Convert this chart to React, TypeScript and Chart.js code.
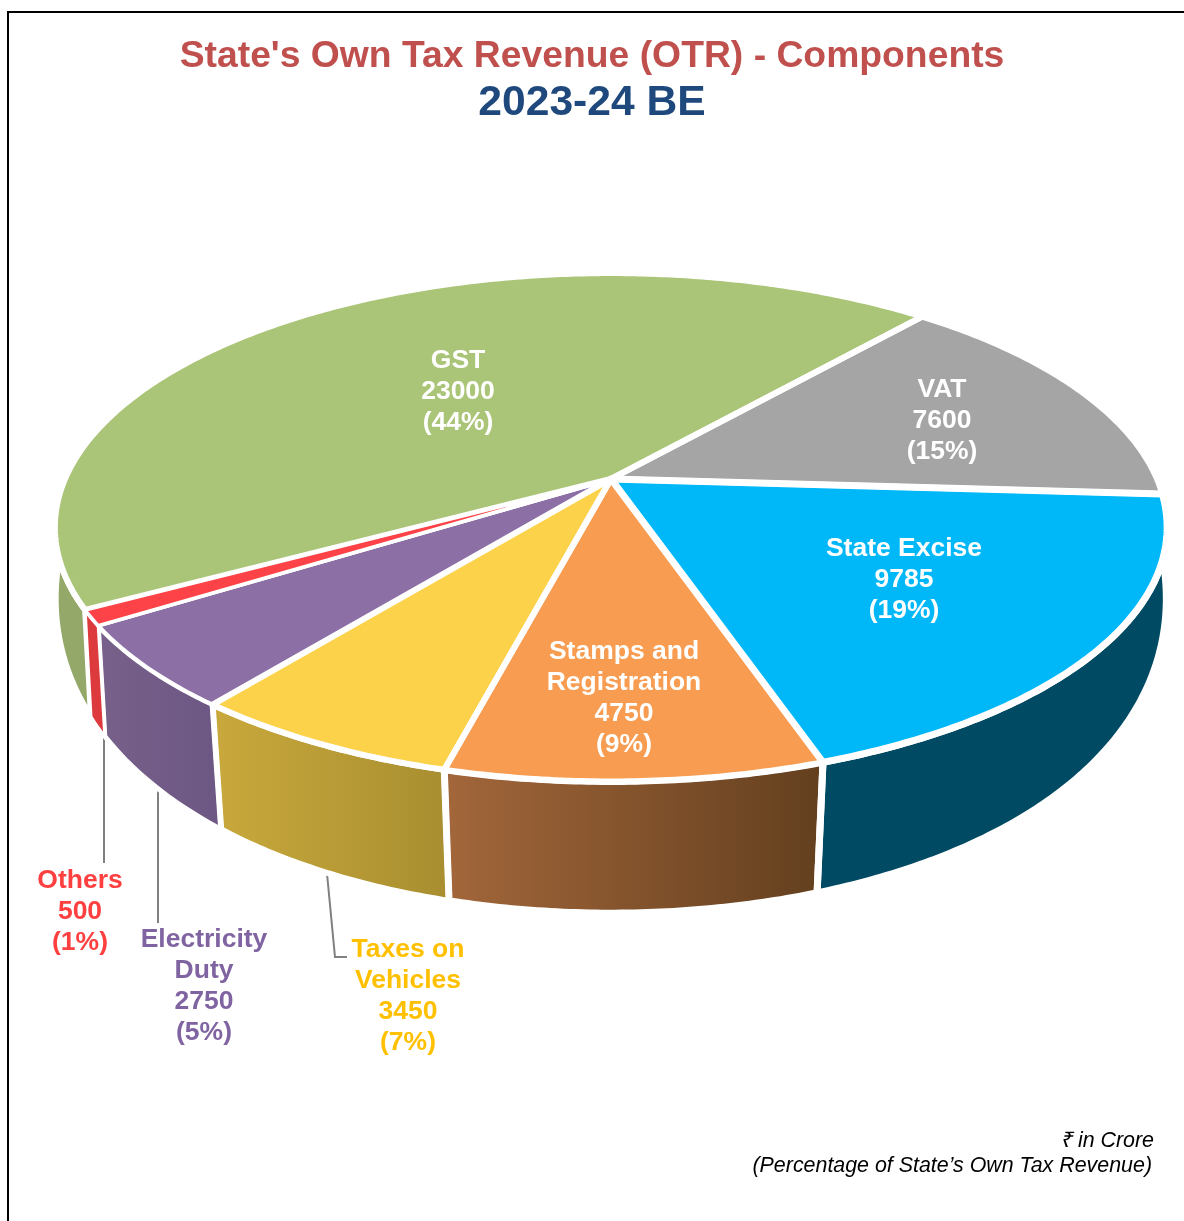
import React, { useEffect, useRef } from "react";
import { Chart, registerables } from "chart.js";

Chart.register(...registerables);

const categories = ["GST", "VAT", "State Excise", "Stamps and Registration", "Taxes on Vehicles", "Electricity Duty", "Others"];
const revenue = [23000, 7600, 9785, 4750, 3450, 2750, 500];
const labelLines = [["GST"], ["VAT"], ["State Excise"], ["Stamps and", "Registration"], ["Taxes on", "Vehicles"], ["Electricity", "Duty"], ["Others"]];
const topColors = ["#ABC578", "#A5A5A5", "#00B8F8", "#F79C50", "#FCD24B", "#8B6FA5", "#FD4347"];
const wallFrom = ["#93A869", "#8A8A8A", "#004A63", "#A2663A", "#C8A83C", "#776089", "#DC3A3D"];
const wallTo = ["#93A869", "#8A8A8A", "#004A63", "#64401F", "#A88E30", "#6C5784", "#DC3A3D"];
const labelColors = ["#FFFFFF", "#FFFFFF", "#FFFFFF", "#FFFFFF", "#FFC000", "#8064A2", "#FF4040"];
const faceStroke = [6, 6, 7, 6, 6, 4, 4];
const wallStroke = [6, 6, 7, 7, 6, 5, 4];
const SLIVER = 6; // index of the thin "Others" slice, repainted above its neighbours' strokes

// text layout: centre x and first-line centre y of each label block
const labelX = [458, 942, 904, 624, 408, 204, 80];
const labelY = [361, 390, 549, 652, 950, 940, 881];
// leader lines: they leave the lower rim, then follow the waypoints
const leaders: Record<number, { dx: number | null; points: [number, number][] }> = {
  4: { dx: 1, points: [[335, 957], [347, 957]] },
  5: { dx: null, points: [[158, 923]] },
  6: { dx: null, points: [[104, 863]] },
};

// perspective of the pie disc
const TOP = { a: 546, b: 245, k: 0.19 };
const LOW = { a: 548, ak: 0.162, b: 353.6, bk: 0.05, dy: 62 };
const APEX_SHIFT_X = 19;

const FONT = '"Liberation Sans", Arial, sans-serif';

const perspectivePie = {
  id: "perspectivePie",
  beforeDatasetDraw(chart: any) {
    const ctx = chart.ctx as CanvasRenderingContext2D;
    const arcs = chart.getDatasetMeta(0).data as any[];
    const cx = arcs[0].x + APEX_SHIFT_X;
    const cy = arcs[0].y;
    const top = (t: number) => {
      const u = Math.cos(t), v = Math.sin(t), w = 1 - TOP.k * v;
      return [cx + (TOP.a * u) / w, cy + (TOP.b * v) / w];
    };
    const low = (t: number) => {
      const u = Math.cos(t), v = Math.sin(t);
      return [cx + (LOW.a * u) / (1 - LOW.ak * v), cy + LOW.dy + (LOW.b * v) / (1 - LOW.bk * v)];
    };
    const samples = (s: number, e: number) => {
      const n = Math.max(2, Math.ceil((e - s) / 0.01));
      return Array.from({ length: n + 1 }, (_, i) => s + ((e - s) * i) / n);
    };

    ctx.save();
    // frame
    ctx.strokeStyle = "#000";
    ctx.lineWidth = 2;
    ctx.beginPath();
    ctx.moveTo(8, chart.height);
    ctx.lineTo(8, 12);
    ctx.lineTo(chart.width, 12);
    ctx.stroke();

    // leaders sit behind the walls
    ctx.strokeStyle = "#808080";
    ctx.lineWidth = 2;
    Object.keys(leaders).forEach((key) => {
      const i = Number(key);
      const p = low((arcs[i].startAngle + arcs[i].endAngle) / 2);
      const leader = leaders[i];
      ctx.beginPath();
      ctx.moveTo(leader.dx === null ? leader.points[0][0] : p[0] + leader.dx, p[1]);
      leader.points.forEach((q) => ctx.lineTo(q[0], q[1]));
      ctx.stroke();
    });

    ctx.lineJoin = "round";
    // walls
    const wallFills: (CanvasGradient | null)[] = [];
    const wallPaths: (Path2D | null)[] = arcs.map((arc, i) => {
      const ts = samples(arc.startAngle, arc.endAngle).filter((t) => Math.sin(t) > -0.1);
      if (ts.length < 2) {
        wallFills.push(null);
        return null;
      }
      const path = new Path2D();
      ts.forEach((t, j) => {
        const p = top(t);
        if (j === 0) path.moveTo(p[0], p[1]);
        else path.lineTo(p[0], p[1]);
      });
      ts.slice().reverse().forEach((t) => {
        const p = low(t);
        path.lineTo(p[0], p[1]);
      });
      path.closePath();
      const xs = ts.map((t) => low(t)[0]);
      const g = ctx.createLinearGradient(Math.min(...xs), 0, Math.max(...xs), 0);
      g.addColorStop(0, wallFrom[i]);
      g.addColorStop(1, wallTo[i]);
      ctx.fillStyle = g;
      ctx.fill(path);
      wallFills.push(g);
      return path;
    });
    ctx.strokeStyle = "#FFFFFF";
    wallPaths.forEach((p, i) => {
      if (!p) return;
      ctx.lineWidth = wallStroke[i];
      ctx.stroke(p);
    });
    if (wallPaths[SLIVER]) {
      ctx.fillStyle = wallFills[SLIVER]!;
      ctx.fill(wallPaths[SLIVER]!);
      ctx.lineWidth = 3;
      ctx.stroke(wallPaths[SLIVER]!);
    }

    // top face
    const facePaths = arcs.map((arc, i) => {
      const path = new Path2D();
      path.moveTo(cx, cy);
      samples(arc.startAngle, arc.endAngle).forEach((t) => {
        const p = top(t);
        path.lineTo(p[0], p[1]);
      });
      path.closePath();
      ctx.fillStyle = topColors[i];
      ctx.fill(path);
      return path;
    });
    facePaths.forEach((p, i) => {
      ctx.lineWidth = faceStroke[i];
      ctx.stroke(p);
    });
    ctx.fillStyle = topColors[SLIVER];
    ctx.fill(facePaths[SLIVER]);
    ctx.lineWidth = 3.5;
    ctx.stroke(facePaths[SLIVER]);
    ctx.restore();
    return false;
  },
  afterDatasetsDraw(chart: any) {
    const ctx = chart.ctx as CanvasRenderingContext2D;
    const total = revenue.reduce((s, v) => s + v, 0);
    ctx.save();
    ctx.textAlign = "center";
    ctx.textBaseline = "middle";
    ctx.font = `bold 26.5px ${FONT}`;
    categories.forEach((_, i) => {
      const lines = [...labelLines[i], String(revenue[i]), `(${Math.round((revenue[i] / total) * 100)}%)`];
      ctx.fillStyle = labelColors[i];
      lines.forEach((line, j) => ctx.fillText(line, labelX[i], labelY[i] + j * 31));
    });
    ctx.fillStyle = "#000";
    ctx.textAlign = "right";
    ctx.font = `italic 21.4px ${FONT}`;
    ctx.fillText("₹ in Crore", 1154, 1141);
    ctx.fillText("(Percentage of State’s Own Tax Revenue)", 1152, 1166);
    ctx.restore();
  },
};

export default function App() {
  const ref = useRef<HTMLCanvasElement>(null);
  useEffect(() => {
    const chart = new Chart(ref.current!, {
      type: "pie",
      data: {
        labels: categories,
        datasets: [{ data: revenue, backgroundColor: topColors, borderWidth: 0 }],
      },
      options: {
        responsive: false,
        animation: false,
        rotation: -119.04,
        layout: { padding: { bottom: 389.7 } },
        plugins: {
          legend: { display: false },
          tooltip: { enabled: false },
          title: {
            display: true,
            text: "State's Own Tax Revenue (OTR) - Components",
            color: "#C0504D",
            font: { family: FONT, size: 37.3, weight: "bold", lineHeight: 1.2 },
            padding: { top: 34.2, bottom: 0 },
          },
          subtitle: {
            display: true,
            text: "2023-24 BE",
            color: "#1F497D",
            font: { family: FONT, size: 42.6, weight: "bold", lineHeight: 1.1 },
            padding: { top: 0.8, bottom: 0 },
          },
        },
      },
      plugins: [perspectivePie],
    } as any);
    return () => chart.destroy();
  }, []);
  return (
    <div style={{ position: "absolute", left: 0, top: 0, width: 1184, height: 1221, background: "#fff" }}>
      <canvas ref={ref} width={1184} height={1221} style={{ display: "block" }} />
    </div>
  );
}
